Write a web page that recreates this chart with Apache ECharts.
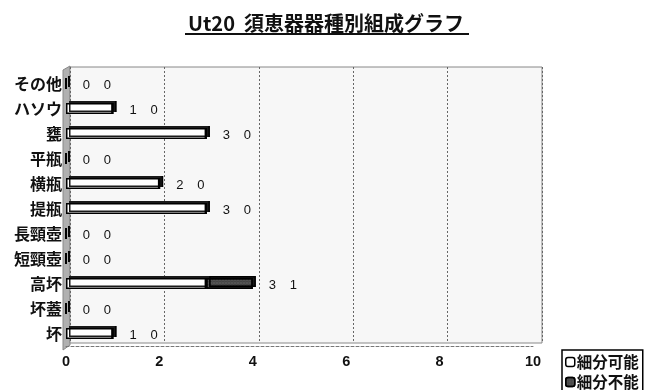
<!DOCTYPE html>
<html><head><meta charset="utf-8">
<script src="https://cdn.jsdelivr.net/npm/echarts@6/dist/echarts.min.js"></script>
<style>html,body{margin:0;padding:0;background:#fff}#c{width:652px;height:390px}</style>
</head><body><div id="c"></div>
<script>
const titleText = 'Ut20  須恵器器種別組成グラフ';
const categories = ['その他','ハソウ','甕','平瓶','横瓶','提瓶','長頸壺','短頸壺','高坏','坏蓋','坏'];
const divisible = [0,1,3,0,2,3,0,0,3,0,1];      // 細分可能
const indivisible = [0,0,0,0,0,0,0,0,1,0,0];    // 細分不能
const xTicks = [0,2,4,6,8,10];
const seriesNames = ['細分可能','細分不能'];

const chart = echarts.init(document.getElementById('c'));
const cjk = '"Noto Sans CJK JP", "Noto Sans", sans-serif';
const latin = '"Liberation Sans", Arial, sans-serif';
const bar3d = {shadowColor:'#1a1a1a', shadowOffsetX:3, shadowOffsetY:-2, shadowBlur:0};
chart.setOption({
  backgroundColor:'#fff',
  animation:false,
  title:{text:titleText, left:'center', top:8,
    textStyle:{fontFamily:cjk, fontSize:20, fontWeight:'bold', color:'#111'}},
  graphic:[
    {type:'line', shape:{x1:185,y1:34,x2:469,y2:34}, style:{stroke:'#111', lineWidth:2}},
    {type:'polygon', shape:{points:[[63,70],[70,66],[70,345],[63,350]]},
      style:{fill:'#b0b0b0', stroke:'#888', lineWidth:1}, z:-1}
  ],
  legend:{
    orient:'vertical', left:562, top:350, height:40, itemWidth:9, itemHeight:9, itemGap:4,
    borderColor:'#000', borderWidth:1.5, padding:[4,4,4,3],
    textStyle:{fontFamily:cjk, fontSize:15.5, lineHeight:16, fontWeight:'bold', color:'#111', padding:[0,0,0,-3]},
    itemStyle:{shadowBlur:0, shadowOffsetX:0, shadowOffsetY:0, shadowColor:'transparent', borderWidth:1.5},
    data:seriesNames
  },
  grid:[
    {left:70, right:110, top:67, bottom:47, show:true, backgroundColor:'#f7f7f7',
      borderColor:'#888', borderWidth:1},
    {left:66, right:119, top:71, bottom:44}
  ],
  xAxis:[
    {gridIndex:0, type:'value', min:0, max:10, interval:2,
      axisLabel:{show:false}, axisLine:{show:false}, axisTick:{show:false},
      splitLine:{show:true, lineStyle:{color:'#666', type:[2,2], width:1}}},
    {gridIndex:1, type:'value', min:0, max:10, interval:2,
      axisLine:{show:true, lineStyle:{color:'#777', type:[3,2]}},
      axisTick:{show:false}, splitLine:{show:false},
      axisLabel:{fontFamily:latin, fontSize:14.5, fontWeight:'bold', color:'#111', margin:8,
        formatter:v=>xTicks.includes(v)?String(v):''}}
  ],
  yAxis:[
    {gridIndex:0, type:'category', data:categories, inverse:true, show:false},
    {gridIndex:1, type:'category', data:categories, inverse:true,
      axisLine:{show:false}, axisTick:{show:false},
      axisLabel:{fontFamily:cjk, fontSize:16, fontWeight:'bold', color:'#111', margin:4}}
  ],
  series:[
    {name:seriesNames[0], type:'bar', stack:'s', xAxisIndex:1, yAxisIndex:1, barWidth:11,
      data:divisible,
      itemStyle:Object.assign({color:'#fff', borderColor:'#000', borderWidth:1.5}, bar3d)},
    {name:seriesNames[1], type:'bar', stack:'s', xAxisIndex:1, yAxisIndex:1, barWidth:11,
      data:indivisible,
      itemStyle:Object.assign({color:'#4a4a4a', borderColor:'#000', borderWidth:1.5,
        decal:{symbol:'circle', symbolSize:0.5, color:'rgba(255,255,255,0.35)', dashArrayX:[2,1], dashArrayY:[2,1], rotation:0}}, bar3d),
      label:{show:true, position:'right', distance:16, offset:[0,2],
        formatter:p=>'{a|'+divisible[p.dataIndex]+'}{b|'+indivisible[p.dataIndex]+'}',
        rich:{a:{width:21, fontSize:13, fontFamily:latin, color:'#111'},
              b:{fontSize:13, fontFamily:latin, color:'#111'}}}}
  ]
});
</script></body></html>
